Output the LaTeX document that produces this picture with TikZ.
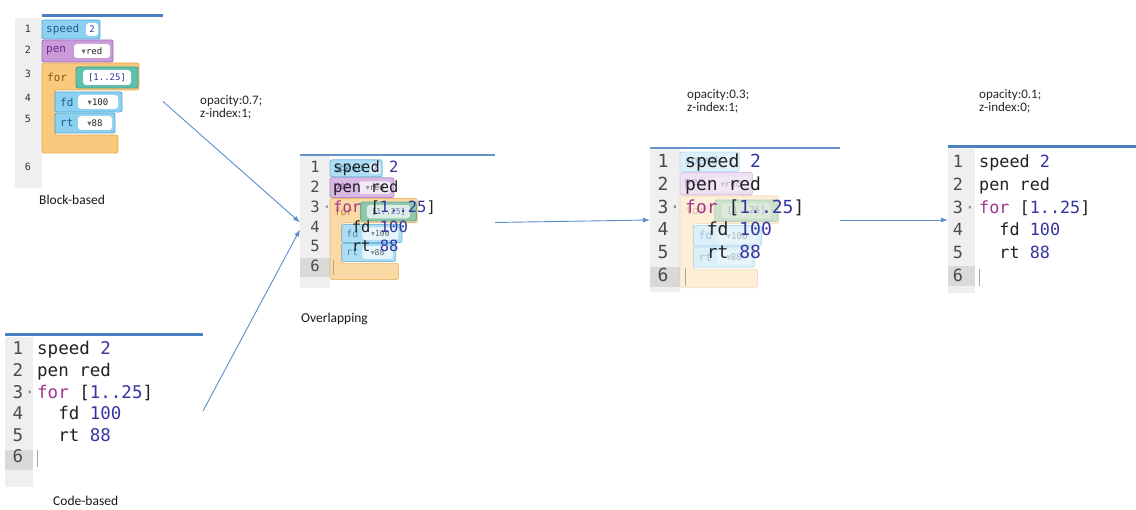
\documentclass[tikz,border=0pt]{standalone}
\usepackage{fontspec}
\setmainfont{Carlito}
\setmonofont{DejaVu Sans Mono}
\newfontfamily\symfont{DejaVu Sans}
\usepackage{tikz}
\usetikzlibrary{positioning}
\usetikzlibrary{arrows.meta}

\definecolor{topblue}{HTML}{4A7FC1}
\definecolor{flowblue}{HTML}{5B8ECF}
\definecolor{gutterbg}{HTML}{EFEFEF}
\definecolor{gutterhl}{HTML}{D9D9D9}
\definecolor{numgray}{HTML}{4A4A4A}
\definecolor{codeblack}{HTML}{222222}
\definecolor{codenum}{HTML}{3535A0}
\definecolor{codekw}{HTML}{A3358F}
\definecolor{blkblue}{HTML}{8DD0F0}
\definecolor{blkblueline}{HTML}{4FA9D6}
\definecolor{blkbluetext}{HTML}{1F5F8F}
\definecolor{blkpurple}{HTML}{C99BD8}
\definecolor{blkpurpleline}{HTML}{A26CBD}
\definecolor{blkpurpletext}{HTML}{6A2A8A}
\definecolor{blkorange}{HTML}{F9C97E}
\definecolor{blkorangeline}{HTML}{E9A94C}
\definecolor{blkorangetext}{HTML}{8A5210}
\definecolor{blkteal}{HTML}{5FC0AD}
\definecolor{blktealline}{HTML}{3F9F8F}

\newcommand{\cnum}[1]{\textcolor{codenum}{#1}}
\newcommand{\ckw}[1]{\textcolor{codekw}{#1}}
\newcommand{\cind}{\phantom{xx}}
\newcommand{\tri}{{\symfont\fontsize{8.5}{8.5}\selectfont\textcolor{black!60}{▾}}}

% the block editor stack, drawn from its own top left corner
\newcommand{\blockstack}[1]{%
  \draw[blkfor] (0,45) -- (97,45) -- (97,72) -- (13,72) -- (13,117) -- (76,117) -- (76,135) -- (0,135) -- cycle;
  \draw[blkmove] (0,2) rectangle (58,21);
  \draw[blkpen] (0,22) rectangle (71,44);
  \draw[blkrange] (34,49) rectangle (96,70);
  \draw[blkmove] (13,74) rectangle (80,94);
  \draw[blkmove] (13,95) rectangle (73,115);
  \fill[inbox] (44,5) rectangle (56,18);
  \fill[inbox] (32,26) rectangle (68,40);
  \fill[inbox] (41,52) rectangle (89,67);
  \fill[inbox] (36,77) rectangle (76,91);
  \fill[inbox] (36,98) rectangle (70,112);
  \node[blktext, text=blkbluetext] (#1-speed) at (4,11.5) {speed};
  \node[intext, text=codenum] (#1-speedv) at (50,11.5) {2};
  \node[blktext, text=blkpurpletext] (#1-pen) at (4,33) {pen};
  \node[intext] (#1-penv) at (50,33) {\tri red};
  \node[blktext, text=blkorangetext] (#1-for) at (5,59.5) {for};
  \node[intext, text=codenum] (#1-forv) at (65,59.5) {[1..25]};
  \node[blktext, text=blkbluetext] (#1-fd) at (18,84) {fd};
  \node[intext] (#1-fdv) at (56,84) {\tri 100};
  \node[blktext, text=blkbluetext] (#1-rt) at (18,105) {rt};
  \node[intext] (#1-rtv) at (53,105) {\tri 88};
}

% the text editor lines: name, number x, code x, first baseline, pitch, font size
\newcommand{\codelines}[6]{%
  \foreach \codeln [count=\i] in {{speed \cnum{2}},{pen red},{\ckw{for} [\cnum{1..25}]},{\cind fd \cnum{100}},{\cind rt \cnum{88}}}
    \node[codeline, font=\ttfamily\fontsize{#6}{#6}\selectfont] (#1-l\i) at (#3,#4+#5*\i-#5) {\codeln};
  \foreach \i in {1,...,6}
    \node[lnum, font=\ttfamily\fontsize{#6}{#6}\selectfont] (#1-n\i) at (#2,#4+#5*\i-#5) {\i};
  \node[fold, font=\ttfamily\fontsize{#6}{#6}\selectfont] (#1-fold) at (#2+12,#4+2*#5) {·};
  \draw[cursor] (#3,#4+5*#5-0.75*#6) -- (#3,#4+5*#5+0.25*#6);
}

\begin{document}
\begin{tikzpicture}[x=1pt, y=-1pt,
		panel/.style={inner sep=0pt, outer sep=0pt},
		gutter/.style={fill=gutterbg},
		curline/.style={fill=gutterhl},
		topline/.style={draw=topblue, line width=3pt},
		thinline/.style={draw=topblue!85, line width=1.5pt},
		lnum/.style={anchor=base, inner sep=0pt, text=numgray},
		codeline/.style={anchor=base west, inner sep=0pt, text=codeblack},
		fold/.style={anchor=base, inner sep=0pt, text=black!45},
		cursor/.style={draw=black!35, line width=0.6pt},
		note/.style={inner sep=0pt, text=black!85, font=\fontsize{13}{13}\selectfont},
		caption/.style={inner sep=0pt, text=black!90, font=\fontsize{13.5}{14}\selectfont},
		flow/.style={draw=flowblue, line width=0.9pt, -{Latex[length=7pt,width=5pt]}},
		blkmove/.style={fill=blkblue, draw=blkblueline, line width=0.8pt, rounded corners=2pt},
		blkpen/.style={fill=blkpurple, draw=blkpurpleline, line width=0.8pt, rounded corners=2pt},
		blkfor/.style={fill=blkorange, draw=blkorangeline, line width=0.8pt, rounded corners=2pt},
		blkrange/.style={fill=blkteal, draw=blktealline, line width=0.8pt, rounded corners=2pt},
		inbox/.style={fill=white, rounded corners=3pt},
		blktext/.style={anchor=west, inner sep=0pt, font=\ttfamily\fontsize{11}{11}\selectfont},
		intext/.style={inner sep=0pt, text=codeblack, font=\ttfamily\fontsize{9}{9}\selectfont},
	]
	\fill[white] (0,0) rectangle (1136,510);
	\useasboundingbox (0,0) rectangle (1136,510);
	% Panels
	\node (block) [panel, minimum width=148pt, minimum height=173pt] at (89,101.5) {};
	\node (code) [panel, minimum width=198pt, minimum height=152pt] at (104,411) {};
	\node (overlap) [panel, minimum width=195pt, minimum height=135pt] at (397.5,222.5) {};
	\node (fade3) [panel, minimum width=190pt, minimum height=144pt] at (745,220) {};
	\node (fade1) [panel, minimum width=188pt, minimum height=146pt] at (1042,220) {};
	% Block-based
	\fill[gutter] (15,18) rectangle (42,188);
	\draw[topline] (42,16) -- (163,16);
	\foreach \y [count=\i] in {33,54,78,102,123,171}
		\node[lnum, text=black!80, font=\ttfamily\fontsize{10}{10}\selectfont] (blk-n\i) at (28,\y) {\i};
	\begin{scope}[shift={(42,18)}]
		\blockstack{blk}
	\end{scope}
	% Code-based
	\fill[gutter] (5,337) rectangle (33,487);
	\fill[curline] (5,450) rectangle (33,470);
	\draw[topline] (5,335) -- (203,335);
	\codelines{code}{18}{37}{355}{21.6}{17.5}
	% Overlapping
	\fill[gutter] (300,156) rectangle (330,288);
	\fill[curline] (300,258) rectangle (330,277);
	\draw[thinline] (300,155) -- (495,155);
	\begin{scope}[shift={(330,158)}, scale=0.9, transform shape, opacity=0.7]
		\blockstack{ovl}
	\end{scope}
	\codelines{ovl}{315}{333}{173}{19.7}{15.5}
	% opacity 0.3
	\fill[gutter] (650,149) rectangle (680,292);
	\fill[curline] (650,267) rectangle (680,287);
	\draw[thinline] (650,148) -- (840,148);
	\begin{scope}[shift={(680,150)}, scale=1.02, transform shape, opacity=0.3]
		\blockstack{fdt}
	\end{scope}
	\codelines{fdt}{663}{685}{167.3}{22.9}{18}
	% opacity 0.1
	\fill[gutter] (948,149) rectangle (975,293);
	\fill[curline] (948,266) rectangle (975,286);
	\draw[topline] (948,147) -- (1136,147);
	\codelines{fdo}{958}{979}{167.3}{22.9}{16.8}
	% Captions and notes
	\node (blocklabel) [caption, below right=17pt and 24pt of block.south west, anchor=base west] {Block-based};
	\node (codelabel) [caption, below right=19pt and 48pt of code.south west, anchor=base west] {Code-based};
	\node (ovllabel) [caption, below right=33pt and 1pt of overlap.south west, anchor=base west] {Overlapping};
	\node (note7a) [note, above left=50pt and 100pt of overlap.north west, anchor=base west] {opacity:0.7;};
	\node (note7b) [note, below right=12.5pt and 0pt of note7a.base west, anchor=base west] {z-index:1;};
	\node (note3a) [note, above right=49pt and 37pt of fade3.north west, anchor=base west] {opacity:0.3;};
	\node (note3b) [note, below right=12.5pt and 0pt of note3a.base west, anchor=base west] {z-index:1;};
	\node (note1a) [note, above right=48pt and 31pt of fade1.north west, anchor=base west] {opacity:0.1;};
	\node (note1b) [note, below right=12.5pt and 0pt of note1a.base west, anchor=base west] {z-index:0;};
	% Arrows between panels
	\draw[flow] (block.east) -- (overlap.west);
	\draw[flow] (code.east) -- ([yshift=-7pt]overlap.west);
	\draw[flow] (overlap.east) -- (fade3.west);
	\draw[flow] (fade3.east) -- (fade1.west);
\end{tikzpicture}
\end{document}
